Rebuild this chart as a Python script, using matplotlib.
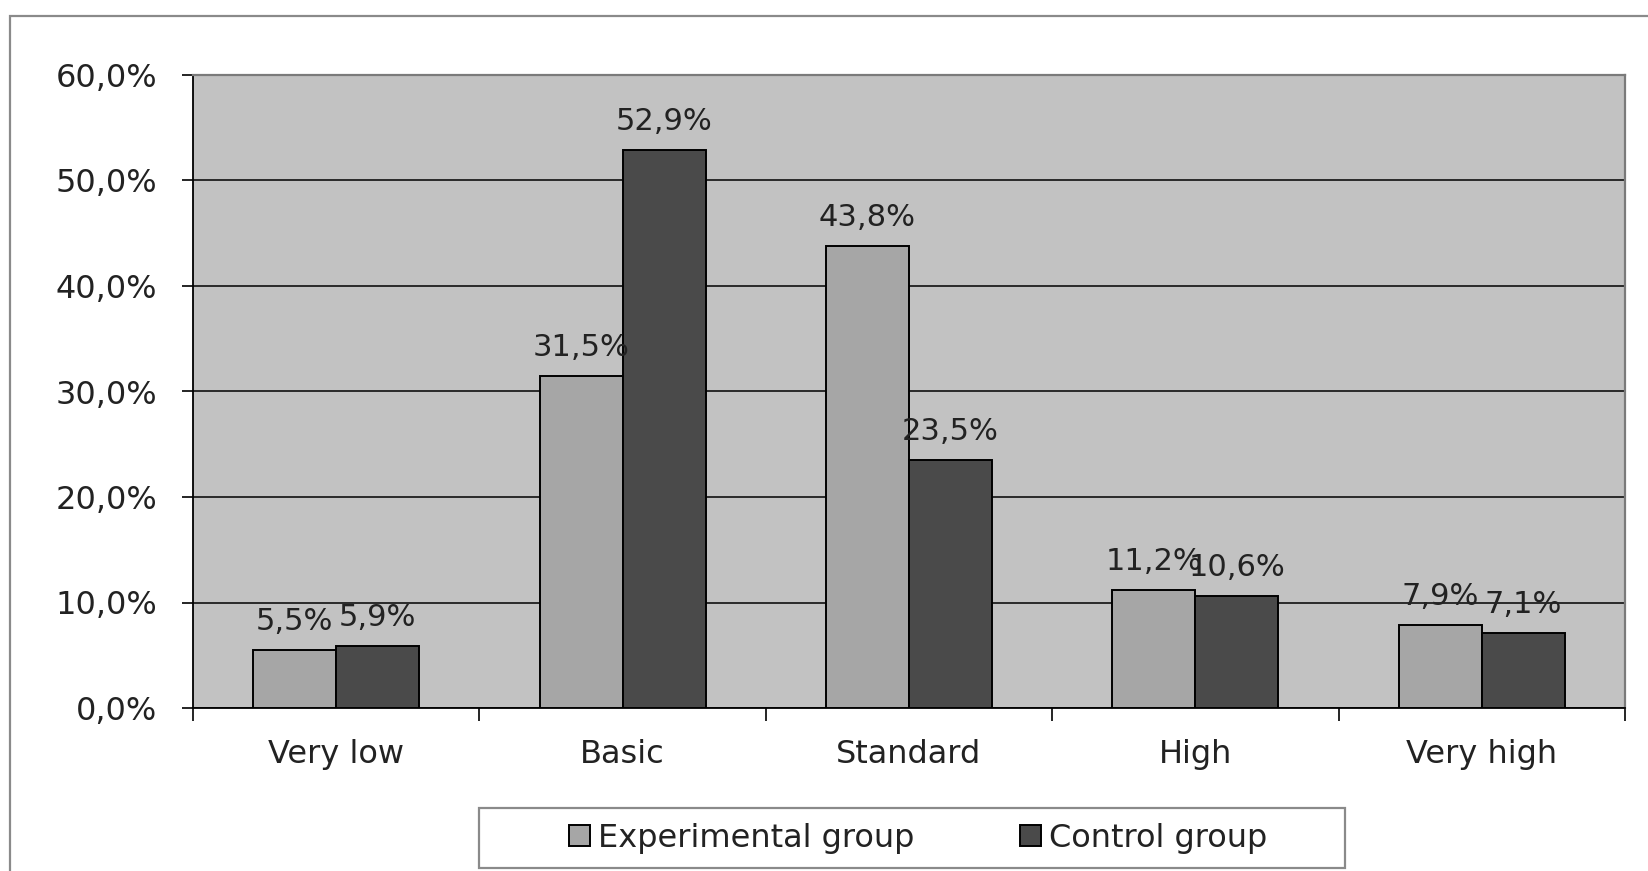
import numpy as np
import matplotlib
matplotlib.use("Agg")
import matplotlib.pyplot as plt
from matplotlib.patches import Rectangle, Patch

categories = ["Very low", "Basic", "Standard", "High", "Very high"]
experimental = [5.5, 31.5, 43.8, 11.2, 7.9]
control = [5.9, 52.9, 23.5, 10.6, 7.1]
series_names = ["Experimental group", "Control group"]
yticks = [0, 10, 20, 30, 40, 50, 60]

W, H = 1649, 871
plt.rcParams['font.family'] = ['DejaVu Sans']

fig = plt.figure(figsize=(W / 100, H / 100), dpi=100)
fig.patch.set_facecolor("white")

# outer chart border (left/top visible, rest cropped)
fig.add_artist(Rectangle((10 / W, -0.1), 1.2, (H - 16) / H + 0.1,
                         transform=fig.transFigure, fill=False,
                         edgecolor="#8a8a8a", linewidth=1.6))

ax = fig.add_axes([193 / W, (H - 708) / H, (1625 - 193) / W, (708 - 75) / H])
ax.set_facecolor("#c2c2c2")

x = np.arange(len(categories))
bw = 0.29
b1 = ax.bar(x - bw / 2, experimental, bw, color="#a6a6a6", edgecolor="black",
            linewidth=1.4, zorder=3, label=series_names[0])
b2 = ax.bar(x + bw / 2, control, bw, color="#4a4a4a", edgecolor="black",
            linewidth=1.4, zorder=3, label=series_names[1])

for bars, vals in ((b1, experimental), (b2, control)):
    for rect, v in zip(bars, vals):
        ax.annotate(f"{v:.1f}%".replace(".", ","),
                    (rect.get_x() + rect.get_width() / 2, rect.get_height()),
                    xytext=(0, 10), textcoords="offset points",
                    ha="center", va="bottom", fontsize=22, color="#222222",
                    zorder=4)

ax.set_xlim(-0.5, len(categories) - 0.5)
ax.set_ylim(0, 60)
ax.set_yticks(yticks)
ax.set_yticklabels([f"{t:.1f}%".replace(".", ",") for t in yticks])
ax.yaxis.grid(True, color="black", linewidth=1.1, zorder=1)
ax.set_axisbelow(True)

ax.set_xticks(x)
ax.set_xticklabels(categories)
ax.set_xticks(np.arange(-0.5, len(categories)), minor=True)
ax.tick_params(axis="x", which="major", length=0, pad=22, labelsize=23,
               labelcolor="#222222")
ax.tick_params(axis="x", which="minor", length=9, width=1.2, direction="out")
ax.tick_params(axis="y", length=8, width=1.2, direction="out", pad=18,
               labelsize=23, labelcolor="#222222")

for s in ("left", "bottom"):
    ax.spines[s].set_color("black")
    ax.spines[s].set_linewidth(1.3)
for s in ("top", "right"):
    ax.spines[s].set_color("#7a7a7a")
    ax.spines[s].set_linewidth(1.6)

# legend box
fig.add_artist(Rectangle((479 / W, (H - 868) / H), (1345 - 479) / W, 60 / H,
                         transform=fig.transFigure, facecolor="white",
                         edgecolor="#8a8a8a", linewidth=1.6))
handles = [Patch(facecolor="#a6a6a6", edgecolor="black", linewidth=1.4),
           Patch(facecolor="#4a4a4a", edgecolor="black", linewidth=1.4)]
fig.legend(handles, series_names, loc="center",
           bbox_to_anchor=(918 / W, (H - 838) / H), ncol=2, frameon=False,
           fontsize=23, handlelength=0.65, handleheight=0.65,
           handletextpad=0.25, columnspacing=3.3, labelcolor="#222222")

fig.savefig("out.png", dpi=100)
